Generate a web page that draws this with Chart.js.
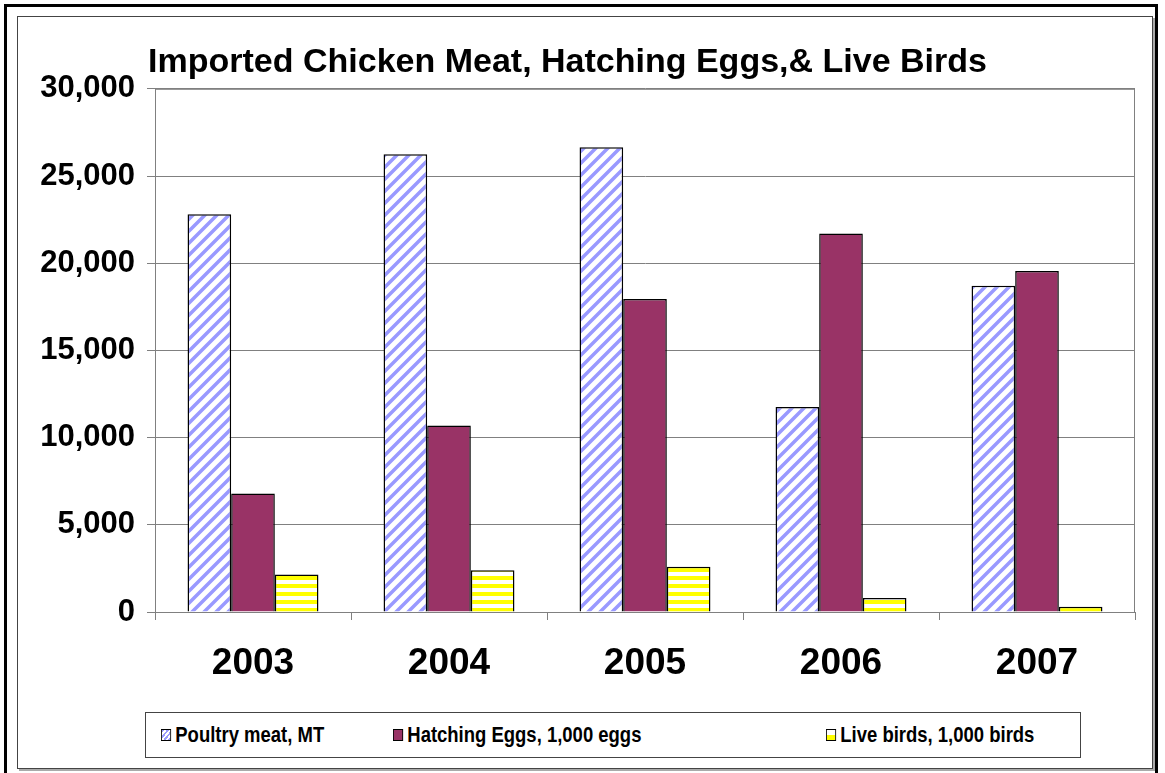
<!DOCTYPE html>
<html>
<head>
<meta charset="utf-8">
<script src="https://cdn.jsdelivr.net/npm/chart.js@4.4.0/dist/chart.umd.min.js"></script>
<style>
  body { margin: 0; background: #fff; width: 1165px; height: 773px; overflow: hidden; position: relative; }
  #outer { position: absolute; left: 4px; top: 4px; width: 1148px; height: 790px; border: 3px solid #000; }
  #frame { position: absolute; left: 17px; top: 16px; width: 1134px; height: 751px; border: 1px solid #444; box-shadow: 2px 2px 0 #aaa; }
  #wrap { position: absolute; left: 0; top: 0; width: 1165px; height: 773px; }
  #legend { position: absolute; left: 145px; top: 712px; width: 934px; height: 44px; border: 1px solid #444; background: #fff; }
  .item { position: absolute; top: 0; height: 44px; display: flex; align-items: center;
          font: bold 22px "Liberation Sans", sans-serif; color: #000; white-space: nowrap;
          transform: scaleX(0.84); transform-origin: left center; }
  .sw { width: 12px; height: 12px; border: 1px solid #000; margin-right: 5px; box-sizing: border-box; }
</style>
</head>
<body>
<div id="outer"></div>
<div id="frame"></div>
<div id="wrap"><canvas id="chart" width="1165" height="773"></canvas></div>
<div id="legend"></div>
<script>
const years = ['2003', '2004', '2005', '2006', '2007'];
const poultryMeat = [22800, 26250, 26650, 11750, 18700];
const hatchingEggs = [6800, 10700, 17950, 21700, 19550];
const liveBirds = [2150, 2400, 2600, 800, 300];
const seriesNames = ['Poultry meat, MT', 'Hatching Eggs, 1,000 eggs', 'Live birds, 1,000 birds'];
const legendLeft = [15, 247, 680];

// fill patterns like the old excel ones
function stripeDiag() {
  const s = 12;
  const c = document.createElement('canvas');
  c.width = s; c.height = s;
  const g = c.getContext('2d');
  g.fillStyle = '#fff';
  g.fillRect(0, 0, s, s);
  g.strokeStyle = '#9999ff';
  g.lineWidth = 3.5;
  g.beginPath();
  g.moveTo(-2, s + 2); g.lineTo(s + 2, -2);
  g.moveTo(-3, 3); g.lineTo(3, -3);
  g.moveTo(s - 3, s + 3); g.lineTo(s + 3, s - 3);
  g.stroke();
  return g.createPattern(c, 'repeat');
}

function stripeHoriz() {
  const c = document.createElement('canvas');
  c.width = 8; c.height = 8;
  const g = c.getContext('2d');
  g.fillStyle = '#fff';
  g.fillRect(0, 0, 8, 8);
  g.fillStyle = '#ffff00';
  g.fillRect(0, 0, 8, 4);
  return g.createPattern(c, 'repeat');
}

const ctx = document.getElementById('chart').getContext('2d');

const plotBorder = {
  id: 'plotBorder',
  beforeDatasetsDraw(chart) {
    const a = chart.chartArea;
    const c = chart.ctx;
    c.save();
    c.strokeStyle = '#808080';
    c.lineWidth = 1;
    c.strokeRect(a.left + 0.5, a.top + 0.5, a.right - a.left - 1, a.bottom - a.top);
    c.restore();
  }
};

const chart = new Chart(ctx, {
  type: 'bar',
  data: {
    labels: years,
    datasets: [
      { label: seriesNames[0], data: poultryMeat, backgroundColor: stripeDiag(), borderColor: '#000', borderWidth: 1.5 },
      { label: seriesNames[1], data: hatchingEggs, backgroundColor: '#993366', borderColor: '#000', borderWidth: 1.5 },
      { label: seriesNames[2], data: liveBirds, backgroundColor: stripeHoriz(), borderColor: '#000', borderWidth: 1.5 }
    ]
  },
  options: {
    responsive: false,
    animation: false,
    devicePixelRatio: 1,
    layout: { padding: { top: 0, left: 0, right: 30, bottom: 91 } },
    datasets: { bar: { categoryPercentage: 0.668, barPercentage: 1.0 } },
    plugins: {
      legend: { display: false },
      tooltip: { enabled: false },
      title: {
        display: true,
        text: 'Imported Chicken Meat, Hatching Eggs,& Live Birds',
        color: '#000',
        font: { family: 'Liberation Sans', size: 34, weight: 'bold' },
        padding: { top: 42, bottom: 6 }
      }
    },
    scales: {
      x: {
        grid: { drawOnChartArea: false, tickLength: 8, color: '#808080' },
        border: { color: '#808080' },
        ticks: { color: '#000', padding: 22, font: { family: 'Liberation Sans', size: 37, weight: 'bold' } },
        afterFit(scale) { scale.height = 70; }
      },
      y: {
        min: 0,
        max: 30000,
        ticks: { stepSize: 5000, color: '#000', padding: 12, font: { family: 'Liberation Sans', size: 31, weight: 'bold' } },
        grid: { color: '#808080', tickLength: 8 },
        border: { color: '#808080' },
        afterFit(scale) { scale.width = 155; }
      }
    }
  },
  plugins: [plotBorder]
});

// legend as html, placed like the original
const swatchCss = [
  'background: repeating-linear-gradient(-45deg, #9999ff 0 2px, #fff 2px 4px);',
  'background: #993366;',
  'background: linear-gradient(#fff 0 50%, #ffff00 50% 100%);'
];
const legendEl = document.getElementById('legend');
seriesNames.forEach((name, i) => {
  const it = document.createElement('div');
  it.className = 'item';
  it.style.left = legendLeft[i] + 'px';
  it.innerHTML = '<div class="sw" style="' + swatchCss[i] + '"></div><span>' + name + '</span>';
  legendEl.appendChild(it);
});
</script>
</body>
</html>
